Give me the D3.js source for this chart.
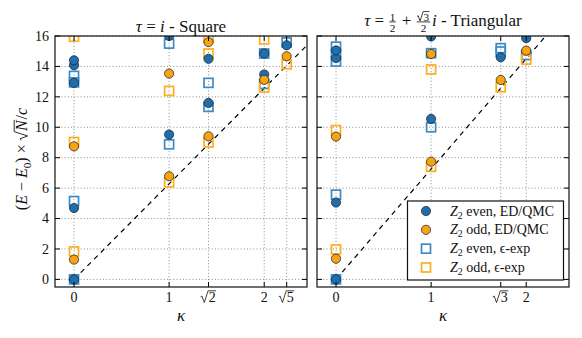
<!DOCTYPE html>
<html>
<head>
<meta charset="utf-8">
<script src="https://cdn.jsdelivr.net/npm/d3@7"></script>
<style>
  body { margin: 0; background: #fff; }
  svg text { white-space: pre; fill: #111; }
</style>
</head>
<body>
<svg id="chart" width="582" height="338"></svg>
<script>
// ---- data (kappa, (E-E0) sqrt(N)/c) ----
var R2 = Math.SQRT2, R3 = Math.sqrt(3), R5 = Math.sqrt(5);

var squareTicks = [0, 1, R2, 2, R5];
var squareTickLabels = ["0", "1", "r2", "2", "r5"];
var triTicks = [0, 1, R3, 2];
var triTickLabels = ["0", "1", "r3", "2"];
var yTicks = [0, 2, 4, 6, 8, 10, 12, 14, 16];

var squareEvenQMC = [[0, 0], [0, 4.69], [0, 12.92], [0, 14.08], [0, 14.4], [1, 9.52], [1, 16.0],
                     [R2, 11.6], [R2, 14.5], [2, 13.47], [2, 14.85], [R5, 15.39]];
var squareOddQMC  = [[0, 1.3], [0, 8.75], [1, 6.78], [1, 13.53], [R2, 9.41], [R2, 15.6],
                     [2, 13.12], [R5, 14.67]];
var squareEvenEps = [[0, 0], [0, 5.15], [0, 12.95], [0, 13.38], [1, 8.88], [1, 15.5],
                     [R2, 11.34], [R2, 12.92], [2, 12.85], [2, 14.85], [R5, 15.58]];
var squareOddEps  = [[0, 1.84], [0, 9.03], [0, 15.95], [1, 6.38], [1, 12.39], [R2, 9.0],
                     [R2, 14.85], [R2, 15.88], [2, 12.61], [2, 15.77], [R5, 14.14]];

var triEvenQMC = [[0, 0], [0, 5.05], [0, 14.55], [0, 15.05], [1, 10.55], [1, 15.97],
                  [R3, 14.6], [2, 15.86]];
var triOddQMC  = [[0, 1.36], [0, 9.39], [1, 7.74], [1, 14.82], [R3, 13.11], [2, 15.04]];
var triEvenEps = [[0, 0], [0, 5.57], [0, 14.32], [0, 14.8], [0, 15.3], [1, 10.0], [1, 14.87],
                  [R3, 14.98], [R3, 15.2], [2, 14.75]];
var triOddEps  = [[0, 1.97], [0, 9.82], [1, 7.4], [1, 13.8], [R3, 12.63], [2, 14.45]];

// slope of the dashed guide line
var squareSlope = 2 * Math.PI;
var triSlope = 4 * Math.PI / R3;

var legendLabels = ["even, ED/QMC", "odd, ED/QMC", "even, \u03f5-exp", "odd, \u03f5-exp"];

// ---- styles ----
var serif = "'Liberation Serif', 'DejaVu Serif', serif";
var blue = "#1f6fb0", orange = "#f7a413";
var blueEdge = "#3a8bc8", orangeEdge = "#ffad1c";

var svg = d3.select("#chart");
var plotTop = 36, plotBottom = 287;
var y = d3.scaleLinear().domain([-0.5, 16]).range([plotBottom, plotTop]);

// small math layout: pieces laid out on a baseline, returns width
function layout(g, pieces, size) {
    var x = 0;
    pieces.forEach(function(p) {
        if (p.frac) {
            var fs = size * 0.66;
            var num = g.append("g"), den = g.append("g");
            var wn = layout(num, p.frac[0], fs), wd = layout(den, p.frac[1], fs);
            var w = Math.max(wn, wd) + size * 0.16;
            num.attr("transform", "translate(" + (x + (w - wn) / 2) + "," + (-size * 0.32) + ")");
            den.attr("transform", "translate(" + (x + (w - wd) / 2) + "," + (size * 0.34) + ")");
            g.append("line")
                .attr("x1", x + 1).attr("x2", x + w - 1)
                .attr("y1", -size * 0.24).attr("y2", -size * 0.24)
                .attr("stroke", "#111").attr("stroke-width", 0.8);
            x += w + size * 0.05;
        } else if (p.sqrt) {
            var inner = g.append("g");
            var wi = layout(inner, p.sqrt, size);
            var rw = size * 0.58;
            inner.attr("transform", "translate(" + (x + rw) + ",0)");
            var s = size;
            g.append("path")
                .attr("d", "M" + x + "," + (-s * 0.36) + "l" + (s * 0.1) + "," + (-s * 0.07) +
                    "L" + (x + s * 0.27) + "," + (s * 0.04) +
                    "L" + (x + rw - s * 0.04) + "," + (-s * 0.8) +
                    "H" + (x + rw + wi + s * 0.03))
                .attr("fill", "none").attr("stroke", "#111").attr("stroke-width", Math.max(0.8, s * 0.055));
            x += rw + wi + s * 0.06;
        } else {
            var fs2 = p.sub ? size * 0.7 : size;
            var t = g.append("text")
                .attr("x", x)
                .attr("y", p.sub ? size * 0.22 : 0)
                .style("font-family", serif)
                .style("font-size", fs2 + "px")
                .style("font-style", p.i ? "italic" : "normal")
                .text(p.t);
            x += t.node().getComputedTextLength();
        }
    });
    return x;
}

function mathText(parent, cx, baseline, pieces, size, anchor) {
    var g = parent.append("g");
    var w = layout(g, pieces, size);
    var dx = anchor == "end" ? -w : (anchor == "start" ? 0 : -w / 2);
    g.attr("transform", "translate(" + (cx + dx) + "," + baseline + ")");
    return g;
}

function tickPieces(label) {
    if (label.charAt(0) == "r") { return [{sqrt: [{t: label.slice(1)}]}]; }
    return [{t: label}];
}

function drawPanel(opts) {
    var x = d3.scaleLinear().domain([-0.2, 2.45]).range([opts.left, opts.right]);
    var g = svg.append("g");

    var clipId = "clip" + opts.id;
    svg.append("clipPath").attr("id", clipId).append("rect")
        .attr("x", opts.left).attr("y", plotTop)
        .attr("width", opts.right - opts.left).attr("height", plotBottom - plotTop);

    // grid
    var grid = g.append("g").attr("stroke", "#444").attr("stroke-width", 0.8)
        .attr("stroke-dasharray", "1,2.2").attr("opacity", 0.75);
    grid.selectAll("line.h").data(yTicks).enter().append("line")
        .attr("x1", opts.left).attr("x2", opts.right)
        .attr("y1", function(d) { return y(d); }).attr("y2", function(d) { return y(d); });
    grid.selectAll("line.v").data(opts.ticks).enter().append("line")
        .attr("y1", plotTop).attr("y2", plotBottom)
        .attr("x1", function(d) { return x(d); }).attr("x2", function(d) { return x(d); });

    var marks = g.append("g").attr("clip-path", "url(#" + clipId + ")");

    // dashed guide line
    marks.append("line")
        .attr("x1", x(0)).attr("y1", y(0))
        .attr("x2", x(2.45)).attr("y2", y(opts.slope * 2.45))
        .attr("stroke", "#000").attr("stroke-width", 1.2).attr("stroke-dasharray", "5,4.5");

    var sq = 9;
    [[opts.evenEps, blueEdge], [opts.oddEps, orangeEdge]].forEach(function(s) {
        marks.append("g").selectAll("rect").data(s[0]).enter().append("rect")
            .attr("x", function(d) { return x(d[0]) - sq / 2; })
            .attr("y", function(d) { return y(d[1]) - sq / 2; })
            .attr("width", sq).attr("height", sq)
            .attr("fill", "none").attr("stroke", s[1]).attr("stroke-width", 1.7);
    });
    [[opts.evenQMC, blue], [opts.oddQMC, orange]].forEach(function(s) {
        marks.append("g").selectAll("circle").data(s[0]).enter().append("circle")
            .attr("cx", function(d) { return x(d[0]); })
            .attr("cy", function(d) { return y(d[1]); })
            .attr("r", 4.6)
            .attr("fill", s[1]).attr("stroke", "#1a1a1a").attr("stroke-width", 0.7);
    });

    // inward ticks on all four sides
    var tk = g.append("g").attr("stroke", "#000").attr("stroke-width", 1);
    opts.ticks.forEach(function(d) {
        tk.append("line").attr("x1", x(d)).attr("x2", x(d)).attr("y1", plotBottom).attr("y2", plotBottom - 5);
        tk.append("line").attr("x1", x(d)).attr("x2", x(d)).attr("y1", plotTop).attr("y2", plotTop + 5);
    });
    yTicks.forEach(function(d) {
        tk.append("line").attr("x1", opts.left).attr("x2", opts.left + 5).attr("y1", y(d)).attr("y2", y(d));
        tk.append("line").attr("x1", opts.right).attr("x2", opts.right - 5).attr("y1", y(d)).attr("y2", y(d));
    });

    // frame
    g.append("rect")
        .attr("x", opts.left).attr("y", plotTop)
        .attr("width", opts.right - opts.left).attr("height", plotBottom - plotTop)
        .attr("fill", "none").attr("stroke", "#111").attr("stroke-width", 1.2);

    // tick labels
    opts.ticks.forEach(function(d, i) {
        mathText(g, x(d), 302, tickPieces(opts.tickLabels[i]), 14);
    });
    if (opts.yLabels) {
        yTicks.forEach(function(d) {
            mathText(g, opts.left - 6, y(d) + 4.8, [{t: String(d)}], 14, "end");
        });
    }

    // x label
    mathText(g, (opts.left + opts.right) / 2, 321, [{t: "\u03ba", i: true}], 17);

    // title
    mathText(g, (opts.left + opts.right) / 2, opts.titleY, opts.title, 17);

    return x;
}

drawPanel({
    id: "sq", left: 55, right: 307, ticks: squareTicks, tickLabels: squareTickLabels,
    slope: squareSlope, yLabels: true, titleY: 31.5,
    evenQMC: squareEvenQMC, oddQMC: squareOddQMC, evenEps: squareEvenEps, oddEps: squareOddEps,
    title: [{t: "\u03c4", i: true}, {t: " = "}, {t: "i", i: true}, {t: " - Square"}]
});

drawPanel({
    id: "tri", left: 317, right: 569, ticks: triTicks, tickLabels: triTickLabels,
    slope: triSlope, yLabels: false, titleY: 26,
    evenQMC: triEvenQMC, oddQMC: triOddQMC, evenEps: triEvenEps, oddEps: triOddEps,
    title: [{t: "\u03c4", i: true}, {t: " = "}, {frac: [[{t: "1"}], [{t: "2"}]]}, {t: " + "},
            {frac: [[{sqrt: [{t: "3"}]}], [{t: "2"}]]}, {t: "i", i: true}, {t: " - Triangular"}]
});

// y axis label (rotated)
var yl = svg.append("g").attr("transform", "translate(27,159) rotate(-90)");
mathText(yl, 0, 0, [{t: "("}, {t: "E", i: true}, {t: " \u2212 "}, {t: "E", i: true}, {t: "0", sub: true},
    {t: ")"}, {t: " \u00d7 "}, {sqrt: [{t: "N", i: true}]}, {t: "/"}, {t: "c", i: true}], 16);

// legend
var lg = svg.append("g");
lg.append("rect").attr("x", 407.5).attr("y", 201).attr("width", 156).attr("height", 79)
    .attr("fill", "#fff").attr("stroke", "#111").attr("stroke-width", 1.2);
var rowY = d3.scalePoint().domain([0, 1, 2, 3]).range([211, 267.5]);
[0, 1].forEach(function(i) {
    lg.append("circle").attr("cx", 426).attr("cy", rowY(i)).attr("r", 4.6)
        .attr("fill", i == 0 ? blue : orange).attr("stroke", "#1a1a1a").attr("stroke-width", 0.7);
});
[2, 3].forEach(function(i) {
    lg.append("rect").attr("x", 421.5).attr("y", rowY(i) - 4.5).attr("width", 9).attr("height", 9)
        .attr("fill", "none").attr("stroke", i == 2 ? blueEdge : orangeEdge).attr("stroke-width", 1.7);
});
legendLabels.forEach(function(s, i) {
    mathText(lg, 450, rowY(i) + 4.5, [{t: "Z", i: true}, {t: "2", sub: true}, {t: " " + s}], 14, "start");
});
</script>
</body>
</html>
